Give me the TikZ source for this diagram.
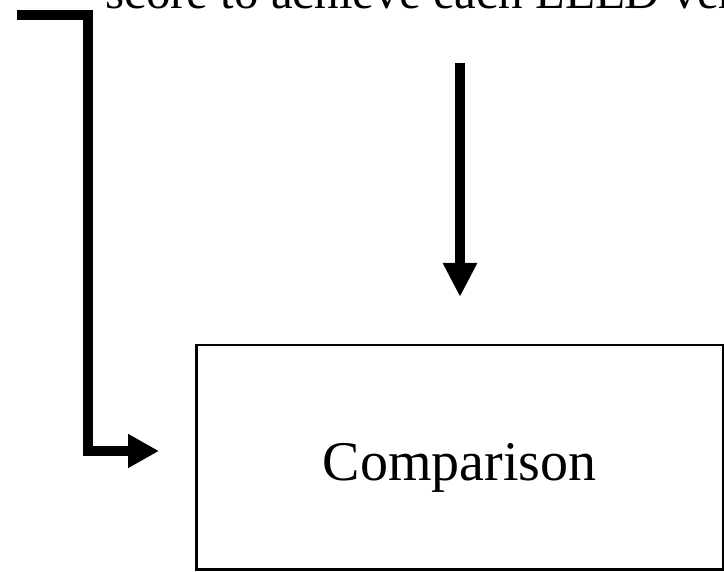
\documentclass[tikz,border=0pt]{standalone}
\usepackage{fontspec}
\setmainfont{Liberation Serif}
\usepackage{tikz}
\usetikzlibrary{positioning, arrows.meta}

\tikzset{
    box/.style={draw, line width=2.5pt, minimum width=527pt, minimum height=224pt,
        text height=46pt, text depth=0pt, font=\fontsize{56}{64}\selectfont},
    arr/.style={line width=10pt, -{Triangle[length=34pt, width=32pt]}},
}

\begin{document}
\begin{tikzpicture}[x=1pt, y=-1pt]
\useasboundingbox (0,0) rectangle (724,572);
\clip (0,0) rectangle (724,572);
% the line of text above, cut off by the page edge
\node[anchor=base west, inner sep=0pt, font=\fontsize{49}{54}\selectfont] (crit) at (105,9) {score to achieve each LEED version};
\node[box, anchor=north west] (cmp) at (195,344) {Comparison};
\coordinate (feed) at (17,15);
\coordinate (down) at (460,63);
\coordinate (downtip) at (460,297);
\coordinate (sidetip) at (159,451);
\draw[arr] (down) -- (downtip);
\draw[arr, -{Triangle[length=31pt, width=32pt]}] (feed) -| (88,451) -- (sidetip);
\end{tikzpicture}
\end{document}
